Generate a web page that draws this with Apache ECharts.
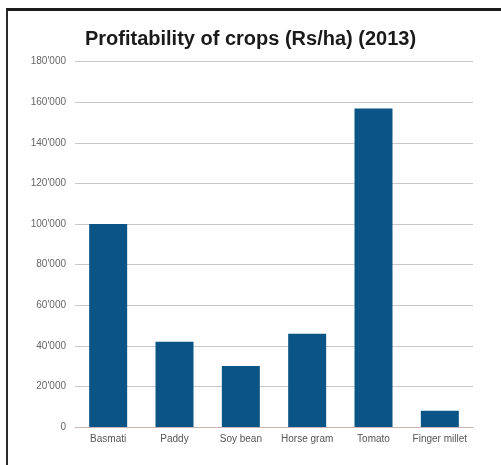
<!DOCTYPE html>
<html><head><meta charset="utf-8">
<script src="https://cdn.jsdelivr.net/npm/echarts@6/dist/echarts.min.js"></script>
<style>
html,body{margin:0;padding:0;background:#fff;}
#frame{position:absolute;left:6px;top:8px;width:495px;height:457px;border-left:2px solid #2a2a2a;border-top:3px solid #1a1a1a;}
#c{position:absolute;left:0;top:0;width:501px;height:465px;}
</style></head>
<body>
<div id="frame"></div>
<div id="c"></div>
<script>
const categories = ['Basmati','Paddy','Soy bean','Horse gram','Tomato','Finger millet'];
const profit = [100000, 42000, 30000, 46000, 157000, 8000];
const yTicks = [0, 20000, 40000, 60000, 80000, 100000, 120000, 140000, 160000, 180000];

function fmt(v){ return String(v).replace(/\B(?=(\d{3})+(?!\d))/g, "'"); }

const chart = echarts.init(document.getElementById('c'), null, {renderer:'canvas'});
chart.setOption({
  animation:false,
  backgroundColor:'transparent',
  title:{
    text:'Profitability of crops (Rs/ha) (2013)',
    left:'center', top:24,
    textStyle:{fontFamily:'Liberation Sans, Arial, sans-serif', fontWeight:'bold', fontSize:20, color:'#1a1a1a'}
  },
  grid:{left:75, right:28, top:61.7, bottom:38},
  xAxis:{
    type:'category', data:categories,
    axisLine:{lineStyle:{color:'#c9b4b4', width:1}},
    axisTick:{show:false},
    axisLabel:{interval:0, fontFamily:'Liberation Sans, Arial, sans-serif', fontSize:10, color:'#555', margin:7}
  },
  yAxis:{
    type:'value', min:yTicks[0], max:yTicks[yTicks.length-1], interval:20000,
    axisLine:{show:false}, axisTick:{show:false},
    splitLine:{lineStyle:{color:'#c8c8c8', width:1}},
    axisLabel:{fontFamily:'Liberation Sans, Arial, sans-serif', fontSize:10, color:'#666', margin:9, formatter:fmt}
  },
  series:[{
    type:'bar', data:profit, barWidth:38,
    itemStyle:{color:'#0b5486'}
  }]
});
</script>
</body></html>
